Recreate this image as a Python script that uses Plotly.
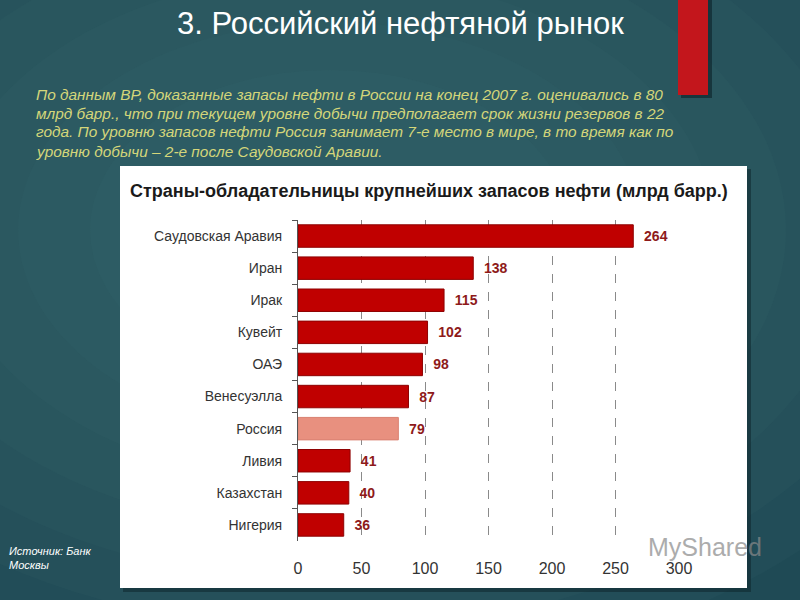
import plotly.graph_objects as go

countries = ["Саудовская Аравия", "Иран", "Ирак", "Кувейт", "ОАЭ",
             "Венесуэлла", "Россия", "Ливия", "Казахстан", "Нигерия"]
reserves = [264, 138, 115, 102, 98, 87, 79, 41, 40, 36]
highlight = "Россия"
x_ticks = [0, 50, 100, 150, 200, 250, 300]

slide_title = "3. Российский нефтяной рынок"
paragraph_lines = [
    "По данным BP, доказанные запасы нефти в России на конец 2007 г. оценивались в 80",
    "млрд барр., что при текущем уровне добычи предполагает срок жизни резервов в 22",
    "года. По уровню запасов нефти Россия занимает 7-е место в мире, в то время как по",
    "уровню добычи – 2-е после Саудовской Аравии.",
]
chart_title = "Страны-обладательницы крупнейших запасов нефти (млрд барр.)"
source = "Источник: Банк<br>Москвы"

W, H = 800, 600
def px(x):
    return x / W
def py(y):
    return 1 - y / H

bar_colors = ["#e8907f" if c == highlight else "#c00000" for c in countries]
bar_lines = ["#d98070" if c == highlight else "#8e0000" for c in countries]

fig = go.Figure()
fig.add_trace(go.Bar(
    x=reserves, y=countries, orientation="h",
    marker=dict(color=bar_colors, line=dict(color=bar_lines, width=1)),
    text=[str(v) for v in reserves], texttemplate="  %{text}", textposition="outside",
    textfont=dict(family="Liberation Sans, Arial", size=14, color="#8e1a1a", weight="bold"),
    cliponaxis=False, hoverinfo="skip", width=0.7,
))

shapes = []
# background glow layers
layers = [(560, 0.06), (500, 0.06), (440, 0.06), (380, 0.06), (320, 0.06), (260, 0.05), (200, 0.05)]
for r, op in layers:
    shapes.append(dict(type="circle", xref="paper", yref="paper",
                       x0=px(330 - r * 1.2), x1=px(330 + r * 1.2),
                       y0=py(230 + r * 0.8), y1=py(230 - r * 0.8),
                       fillcolor="#4f8f8f", opacity=op, line=dict(width=0), layer="below"))
# red decorative rectangle with shadow
shapes.append(dict(type="rect", xref="paper", yref="paper", x0=px(681), x1=px(712), y0=py(98), y1=py(0),
                   fillcolor="#0c2228", opacity=0.6, line=dict(width=0), layer="below"))
shapes.append(dict(type="rect", xref="paper", yref="paper", x0=px(678), x1=px(708), y0=py(95), y1=py(0),
                   fillcolor="#c3161c", line=dict(width=0), layer="below"))
# white panel with shadow
shapes.append(dict(type="rect", xref="paper", yref="paper", x0=px(123), x1=px(751), y0=py(592), y1=py(169),
                   fillcolor="#0c2228", opacity=0.5, line=dict(width=0), layer="below"))
shapes.append(dict(type="rect", xref="paper", yref="paper", x0=px(120), x1=px(747), y0=py(588), y1=py(166),
                   fillcolor="#ffffff", line=dict(width=0), layer="below"))

annotations = [
    dict(text=slide_title, x=px(400), y=py(23), xref="paper", yref="paper", showarrow=False,
         xanchor="center", yanchor="middle",
         font=dict(family="Liberation Sans, Arial", size=31, color="#ffffff")),
    dict(text="<b>" + chart_title + "</b>", x=px(429), y=py(191), xref="paper", yref="paper", showarrow=False,
         xanchor="center", yanchor="middle",
         font=dict(family="Liberation Sans, Arial", size=18, color="#1a1a1a")),
    dict(text="<i>" + source + "</i>", x=px(7), y=py(543), xref="paper", yref="paper", showarrow=False,
         xanchor="left", yanchor="top", align="left",
         font=dict(family="Liberation Sans, Arial", size=11, color="#ffffff")),
    dict(text="MyShared", x=px(646), y=py(547), xref="paper", yref="paper", showarrow=False,
         xanchor="left", yanchor="middle", opacity=0.7,
         font=dict(family="Liberation Sans, Arial", size=25, color="#8a8a8a")),
]
for i, line in enumerate(paragraph_lines):
    annotations.append(dict(text="<i>" + line + "</i>", x=px(34), y=py(94 + 19 * i), xref="paper", yref="paper",
                            showarrow=False, xanchor="left", yanchor="middle", align="left",
                            font=dict(family="Liberation Sans, Arial", size=15.4, color="#d4d67a")))

fig.update_layout(
    width=W, height=H, margin=dict(l=0, r=0, t=0, b=0, pad=0, autoexpand=False),
    paper_bgcolor="#1f4a55", plot_bgcolor="rgba(0,0,0,0)",
    showlegend=False, shapes=shapes, annotations=annotations,
    bargap=0.3,
    xaxis=dict(domain=[px(298), px(679)], range=[0, 300], tickvals=x_ticks, automargin=False,
               showgrid=True, gridcolor="#8a8a8a", griddash="dash", gridwidth=1,
               zeroline=False, showline=False, ticks="", ticklabelstandoff=16,
               tickfont=dict(family="Liberation Sans, Arial", size=16, color="#333333")),
    yaxis=dict(domain=[py(541), py(220)], autorange="reversed", categoryorder="array", categoryarray=countries,
               automargin=False,
               showline=True, linecolor="#555555", linewidth=1, ticks="outside", tickson="boundaries",
               ticklen=5, tickcolor="#555555", showgrid=False, ticklabelstandoff=12,
               tickfont=dict(family="Liberation Sans, Arial", size=14, color="#333333")),
)

fig.write_html("out.html", config={"displayModeBar": False})
with open("out.html", encoding="utf-8") as f:
    html = f.read()
html = html.replace("<body>", "<body style=\"margin:0;padding:0;overflow:hidden;\">", 1)
with open("out.html", "w", encoding="utf-8") as f:
    f.write(html)
